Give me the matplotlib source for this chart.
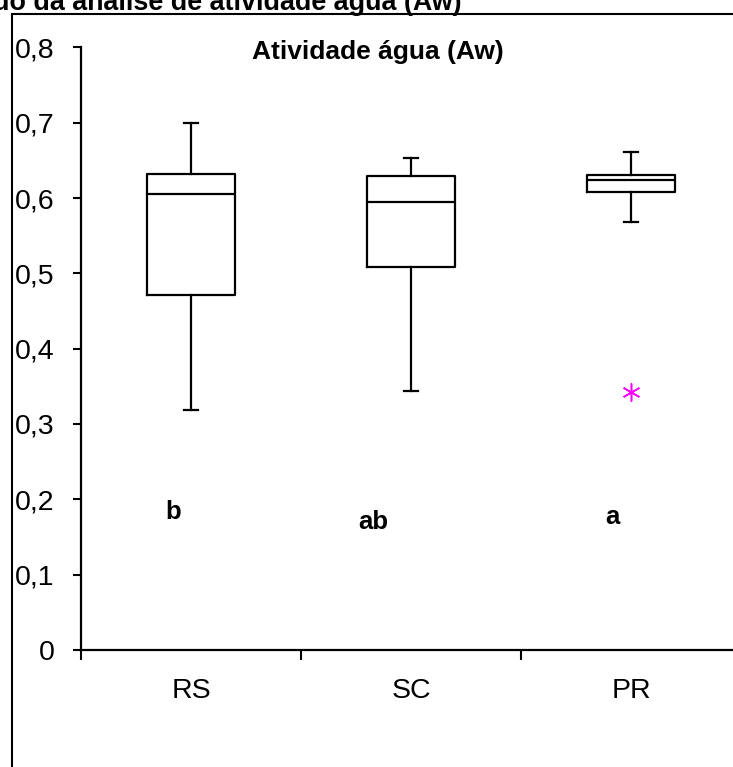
import matplotlib
matplotlib.use("Agg")
import matplotlib.pyplot as plt
from matplotlib.patches import Rectangle

plt.rcParams['font.family'] = ['Liberation Sans', 'DejaVu Sans']

# values
categories = ['RS', 'SC', 'PR']
whis_low = [0.318, 0.344, 0.568]
q1 = [0.471, 0.508, 0.608]
medians = [0.605, 0.595, 0.624]
q3 = [0.632, 0.629, 0.631]
whis_high = [0.700, 0.653, 0.661]
outliers = [[], [], [0.342]]
letters = ['b', 'ab', 'a']
letter_x = [0.918, 1.827, 2.914]
letter_y = [0.183, 0.170, 0.176]
yticks = [0, 0.1, 0.2, 0.3, 0.4, 0.5, 0.6, 0.7, 0.8]
ytick_labels = ['0', '0,1', '0,2', '0,3', '0,4', '0,5', '0,6', '0,7', '0,8']

W, H = 733, 767
fig = plt.figure(figsize=(W / 100, H / 100), dpi=100)
fig.patch.set_facecolor('white')

# outer frame, only left and top edges are inside the picture
fig.add_artist(Rectangle((12 / W, -0.1), 2.0, (H - 13.7) / H + 0.1,
                         transform=fig.transFigure, fill=False,
                         edgecolor='black', linewidth=1.5))

fig.text(462 / W, 1 - 10 / H, 'Resultado da análise de atividade água (Aw)',
         ha='right', va='baseline', fontsize=19.35, fontweight='bold')

ax = fig.add_axes([81 / W, (H - 649.8) / H, 660 / W, 602.4 / H])
ax.set_facecolor('none')

stats = []
for i in range(len(categories)):
    stats.append({'whislo': whis_low[i], 'q1': q1[i], 'med': medians[i],
                  'q3': q3[i], 'whishi': whis_high[i], 'fliers': outliers[i]})

line = dict(color='black', linewidth=1.6)
ax.bxp(stats, positions=[1, 2, 3], widths=0.4, capwidths=0.064,
       boxprops=line, medianprops=line, whiskerprops=line, capprops=line,
       flierprops=dict(marker=(6, 2, 0), markersize=13, markeredgecolor='#ff00ff',
                       markerfacecolor='#ff00ff', markeredgewidth=1.1, linestyle='none'),
       manage_ticks=False)

ax.set_xlim(0.5, 3.5)
ax.set_ylim(0, 0.8)

ax.spines['top'].set_visible(False)
ax.spines['right'].set_visible(False)
ax.spines['left'].set_linewidth(1.6)
ax.spines['bottom'].set_linewidth(1.6)

ax.set_yticks(yticks)
ax.set_yticklabels(ytick_labels)
ax.tick_params(axis='y', length=6, width=1.5, pad=13, labelsize=20.5)

ax.set_xticks([1, 2, 3])
ax.set_xticklabels(categories)
ax.set_xticks([0.5, 1.5, 2.5, 3.5], minor=True)
ax.tick_params(axis='x', which='major', length=0, pad=20, labelsize=20.5)
ax.tick_params(axis='x', which='minor', length=7, width=1.5)

ax.text(1.85, 0.794, 'Atividade água (Aw)', ha='center', va='center',
        fontsize=19, fontweight='bold')

for lx, ly, t in zip(letter_x, letter_y, letters):
    ax.text(lx, ly, t, ha='center', va='center', fontsize=18.5, fontweight='bold')

fig.savefig('out.png', dpi=100)
